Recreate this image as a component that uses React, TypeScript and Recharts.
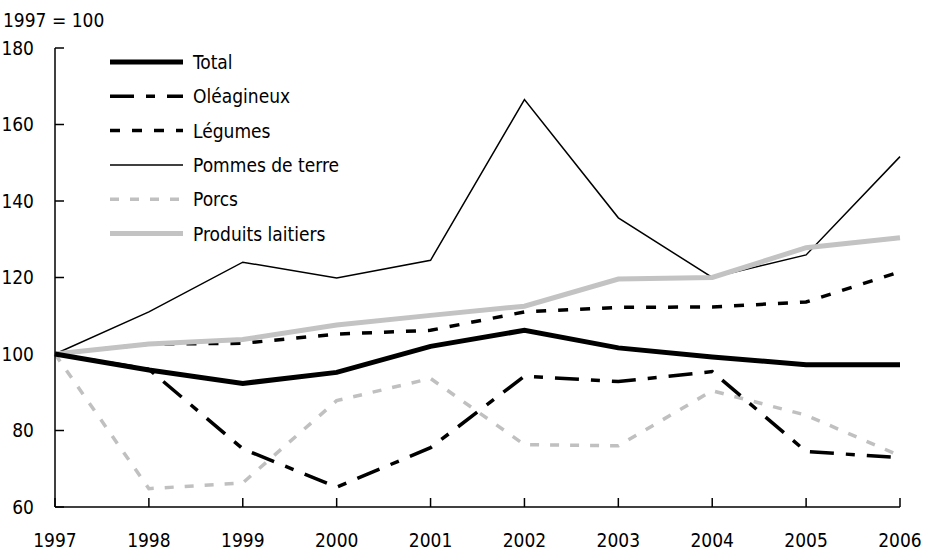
import React from 'react';
import { LineChart, Line, XAxis, YAxis, Legend } from 'recharts';

const years = ['1997', '1998', '1999', '2000', '2001', '2002', '2003', '2004', '2005', '2006'];
const total = [100, 95.8, 92.3, 95.2, 102, 106.2, 101.6, 99.2, 97.2, 97.2];
const oleagineux = [100, 96, 75.2, 65.2, 75.5, 94.2, 92.8, 95.4, 74.5, 72.9];
const legumes = [100, 102.6, 102.8, 105.2, 106.2, 111, 112.2, 112.3, 113.6, 121.5];
const pommesDeTerre = [100, 111, 124, 119.9, 124.5, 166.5, 135.6, 120, 125.9, 151.6];
const porcs = [100, 64.8, 66.3, 87.8, 93.6, 76.3, 76, 90.4, 84, 73.4];
const produitsLaitiers = [100, 102.6, 103.8, 107.6, 110.1, 112.5, 119.6, 120, 127.8, 130.4];
const yTicks = [60, 80, 100, 120, 140, 160, 180];

const data = years.map((year, i) => ({
  year,
  total: total[i],
  oleagineux: oleagineux[i],
  legumes: legumes[i],
  pommes: pommesDeTerre[i],
  porcs: porcs[i],
  laitiers: produitsLaitiers[i],
}));

const FONT = "'Liberation Sans Narrow', 'DejaVu Sans Condensed', 'Arial Narrow', sans-serif";
const FS = 19;

// legend order
const series = [
  { key: 'total', name: 'Total', color: '#000000', width: 5, dash: undefined },
  { key: 'oleagineux', name: 'Oléagineux', color: '#000000', width: 3.5, dash: '24 12 9 12' },
  { key: 'legumes', name: 'Légumes', color: '#000000', width: 3.5, dash: '10 12' },
  { key: 'pommes', name: 'Pommes de terre', color: '#000000', width: 1.5, dash: undefined },
  { key: 'porcs', name: 'Porcs', color: '#c0c0c0', width: 3.5, dash: '9 11' },
  { key: 'laitiers', name: 'Produits laitiers', color: '#c3c3c3', width: 5, dash: undefined },
];

// drawing order (bottom to top)
const drawOrder = ['pommes', 'porcs', 'oleagineux', 'legumes', 'laitiers', 'total'];

const LegendBox = () => (
  <svg width={260} height={210}>
    {series.map((s, i) => {
      const y = 17 + i * 34.3;
      return (
        <g key={s.key}>
          <line x1={5} x2={78} y1={y} y2={y} stroke={s.color} strokeWidth={s.width} strokeDasharray={s.dash} />
          <text x={88} y={y} dominantBaseline="central" fontFamily={FONT} fontSize={FS} fill="#000">
            {s.name}
          </text>
        </g>
      );
    })}
  </svg>
);

export default function App() {
  return (
    <div style={{ position: 'absolute', left: 0, top: 0, width: 927, height: 552, background: '#fff' }}>
      <div style={{ position: 'absolute', left: 3, top: 9, fontFamily: FONT, fontSize: FS, lineHeight: '22px', color: '#000' }}>
        1997 = 100
      </div>
      <LineChart width={927} height={552} data={data} margin={{ top: 48, right: 27, bottom: 0, left: 0 }}>
        <XAxis
          dataKey="year"
          height={45}
          stroke="#000"
          strokeWidth={1.5}
          tickSize={-9}
          tickMargin={36}
          tick={{ fill: '#000', fontFamily: FONT, fontSize: FS }}
          interval={0}
        />
        <YAxis
          width={55}
          domain={[60, 180]}
          ticks={yTicks}
          stroke="#000"
          strokeWidth={1.5}
          tickSize={-9}
          tickMargin={30}
          tick={{ fill: '#000', fontFamily: FONT, fontSize: FS }}
          interval={0}
        />
        <Legend
          layout="vertical"
          align="center"
          verticalAlign="middle"
          wrapperStyle={{ position: 'absolute', left: 105, top: 45, width: 260, height: 210 }}
          content={() => <LegendBox />}
        />
        {drawOrder.map((k) => {
          const s = series.find((x) => x.key === k)!;
          return (
            <Line
              key={s.key}
              type="linear"
              dataKey={s.key}
              name={s.name}
              stroke={s.color}
              strokeWidth={s.width}
              strokeDasharray={s.dash}
              dot={false}
              activeDot={false}
              isAnimationActive={false}
            />
          );
        })}
      </LineChart>
    </div>
  );
}
